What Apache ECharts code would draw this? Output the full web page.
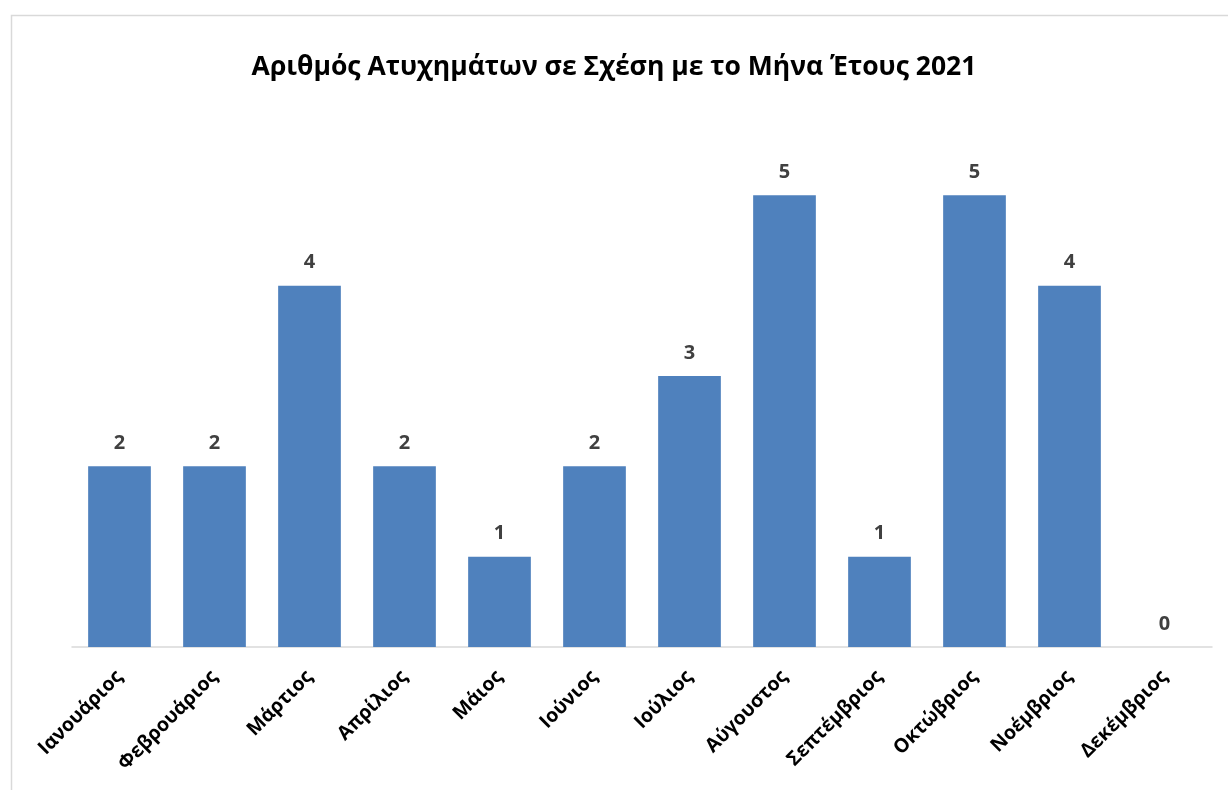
<!DOCTYPE html>
<html>
<head>
<meta charset="utf-8">
<script src="https://cdn.jsdelivr.net/npm/echarts@6/dist/echarts.min.js"></script>
<style>
  html, body { margin: 0; padding: 0; background: #fff; }
  #chart { width: 1228px; height: 790px; }
</style>
</head>
<body>
<div id="chart"></div>
<script>
// Monthly accident counts for 2021
const months = ['Ιανουάριος', 'Φεβρουάριος', 'Μάρτιος', 'Απρίλιος', 'Μάιος', 'Ιούνιος',
  'Ιούλιος', 'Αύγουστος', 'Σεπτέμβριος', 'Οκτώβριος', 'Νοέμβριος', 'Δεκέμβριος'];
const accidents = [2, 2, 4, 2, 1, 2, 3, 5, 1, 5, 4, 0];
const chartTitle = 'Αριθμός Ατυχημάτων σε Σχέση με το Μήνα Έτους 2021';

const FONT = '"Open Sans", "Noto Sans", sans-serif';
const chart = echarts.init(document.getElementById('chart'));

chart.setOption({
  backgroundColor: '#ffffff',
  animation: false,
  title: {
    text: chartTitle,
    left: 'center',
    top: 49,
    textStyle: { fontFamily: FONT, fontWeight: 'bold', fontSize: 26.5, color: '#000000' }
  },
  graphic: [{
    type: 'rect',
    shape: { x: 11.5, y: 15.5, width: 1240, height: 800 },
    style: { fill: 'none', stroke: '#d9d9d9', lineWidth: 1.5 },
    silent: true
  }],
  grid: { left: 72, right: 16, top: 105, bottom: 143 },
  xAxis: {
    type: 'category',
    data: months,
    axisLine: { lineStyle: { color: '#d9d9d9', width: 1.5 } },
    axisTick: { show: false },
    axisLabel: {
      rotate: 45,
      interval: 0,
      margin: 27,
      fontFamily: FONT,
      fontWeight: 'bold',
      fontSize: 19.5,
      color: '#000000'
    }
  },
  yAxis: {
    type: 'value',
    min: 0,
    max: 6,
    interval: 1,
    show: false
  },
  series: [{
    type: 'bar',
    data: accidents,
    barWidth: '66%',
    itemStyle: { color: '#4f81bd' },
    label: {
      show: true,
      position: 'top',
      distance: 13,
      fontFamily: FONT,
      fontWeight: 'bold',
      fontSize: 20,
      color: '#404040'
    }
  }]
});
</script>
</body>
</html>
